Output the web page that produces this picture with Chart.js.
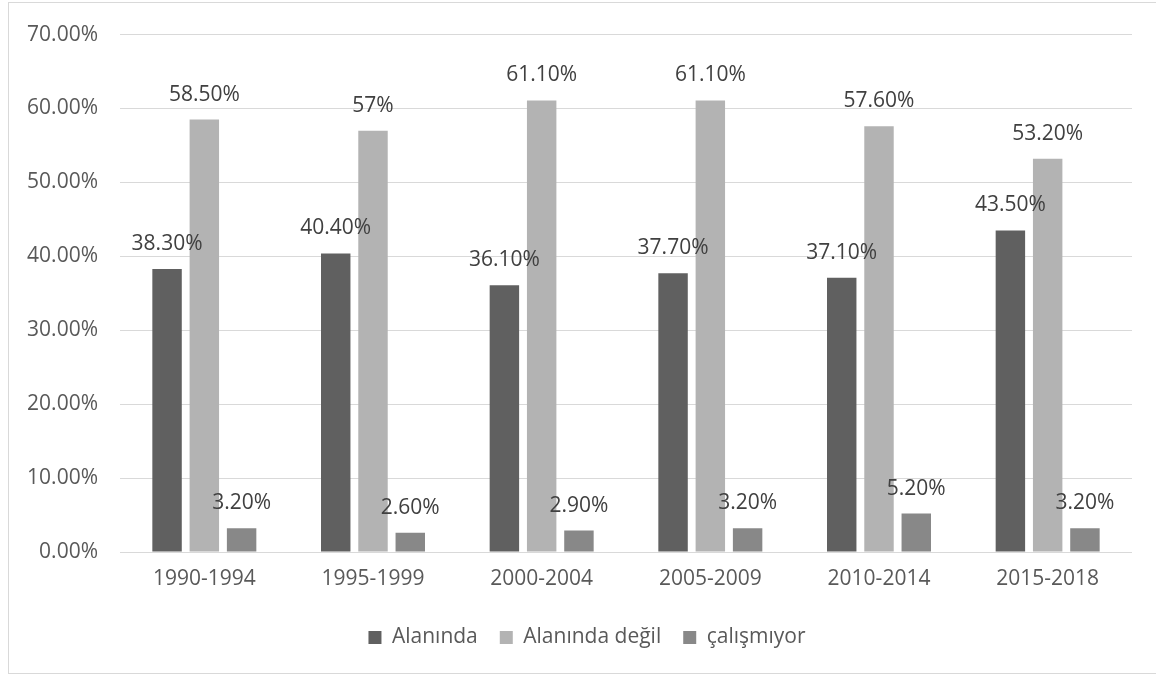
<!DOCTYPE html>
<html>
<head>
<meta charset="utf-8">
<title>Alanında çalışma oranları</title>
<script src="https://cdn.jsdelivr.net/npm/chart.js@4.4.1/dist/chart.umd.min.js"></script>
<style>
  html, body { margin: 0; padding: 0; background: #fff; overflow: hidden; }
  #wrap { position: relative; width: 1156px; height: 674px; }
  #frame { position: absolute; left: 8px; top: 2px; width: 1160px; height: 670px;
           border: 1px solid #d9d9d9; pointer-events: none; }
</style>
</head>
<body>
<div id="wrap">
  <canvas id="chart" width="1156" height="674"></canvas>
  <div id="frame"></div>
</div>
<script>
const categories = ['1990-1994', '1995-1999', '2000-2004', '2005-2009', '2010-2014', '2015-2018'];
const alaninda = [38.3, 40.4, 36.1, 37.7, 37.1, 43.5];
const alanindaDegil = [58.5, 57, 61.1, 61.1, 57.6, 53.2];
const calismiyor = [3.2, 2.6, 2.9, 3.2, 5.2, 3.2];
const yTicks = [0, 10, 20, 30, 40, 50, 60, 70];

(function () {
  'use strict';

  const FONT = "'Open Sans', 'Noto Sans', sans-serif";
  const SIZE = 21;
  const fmtLabel = (v) => Number.isInteger(v) ? v + '%' : v.toFixed(2) + '%';

  // draws the value above each bar, like Excel's data labels
  const valueLabels = {
    id: 'valueLabels',
    afterDatasetsDraw(chart) {
      const ctx = chart.ctx;
      ctx.save();
      ctx.font = SIZE + 'px ' + FONT;
      ctx.fillStyle = '#404040';
      ctx.textAlign = 'center';
      ctx.textBaseline = 'middle';
      chart.data.datasets.forEach((ds, i) => {
        chart.getDatasetMeta(i).data.forEach((bar, j) => {
          ctx.fillText(fmtLabel(ds.data[j]), bar.x, bar.y - 25);
        });
      });
      ctx.restore();
    },
  };

  // Excel centres the legend on the whole chart box, not on the plot; nudge it over
  const legendShift = {
    id: 'legendShift',
    afterLayout(chart) {
      if (!chart.legend) return;
      chart.legend.left += 11;
      chart.legend.right += 11;
    },
  };

  const bar = (label, data, color) => ({
    label, data, backgroundColor: color, borderWidth: 0,
    categoryPercentage: 0.663, barPercentage: 0.79,
  });

  new Chart(document.getElementById('chart').getContext('2d'), {
    type: 'bar',
    data: {
      labels: categories,
      datasets: [
        bar('Alanında', alaninda, '#606060'),
        bar('Alanında değil', alanindaDegil, '#b3b3b3'),
        bar('çalışmıyor', calismiyor, '#888888'),
      ],
    },
    options: {
      responsive: false,
      animation: false,
      devicePixelRatio: 1,
      layout: { padding: { left: 20, right: 24, top: 32, bottom: 16 } },
      plugins: {
        legend: {
          position: 'bottom',
          labels: {
            color: '#595959', boxWidth: 13, boxHeight: 13, padding: 22,
            font: { family: FONT, size: SIZE },
          },
        },
        tooltip: { enabled: false },
      },
      scales: {
        x: {
          grid: { display: false },
          border: { display: false },
          ticks: { color: '#595959', padding: 6, font: { family: FONT, size: SIZE } },
          afterFit: (s) => { s.height = 53; },
        },
        y: {
          min: 0, max: 70,
          afterBuildTicks: (s) => { s.ticks = yTicks.map((v) => ({ value: v })); },
          grid: { color: '#d9d9d9', lineWidth: 1, drawTicks: false },
          border: { display: false },
          ticks: {
            color: '#595959', padding: 22, font: { family: FONT, size: SIZE },
            callback: (v) => v.toFixed(2) + '%',
          },
          afterFit: (s) => { s.width = 100; },
        },
      },
    },
    plugins: [valueLabels, legendShift],
  });
})();
</script>
</body>
</html>
